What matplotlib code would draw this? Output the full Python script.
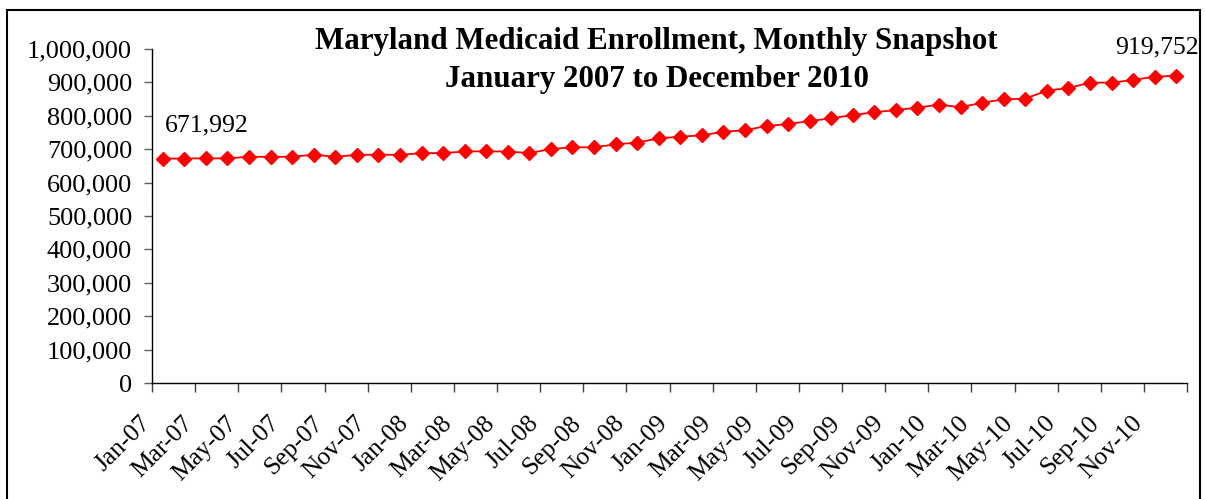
import matplotlib
matplotlib.use("Agg")
import matplotlib.pyplot as plt
from matplotlib.patches import Rectangle
from matplotlib.ticker import FuncFormatter
from matplotlib.transforms import ScaledTranslation

# monthly enrollment, Jan 2007 .. Dec 2010
years = ["07", "08", "09", "10"]
month_names = ["Jan", "Feb", "Mar", "Apr", "May", "Jun",
               "Jul", "Aug", "Sep", "Oct", "Nov", "Dec"]
months = [m + "-" + y for y in years for m in month_names]

enrollment = [
    671992, 672000, 672500, 672500, 677500, 677000,
    677500, 683500, 677500, 683000, 683500, 683000,
    688500, 688000, 693500, 693500, 693000, 688500,
    700500, 705600, 705600, 714600, 719600, 732500,
    737500, 741500, 752500, 756500, 769500, 775400,
    784400, 792400, 802400, 810400, 817400, 824400,
    833500, 825500, 839300, 849300, 851300, 875200,
    883200, 899200, 899200, 907200, 917200, 919752,
]

plt.rcParams["font.family"] = ["Liberation Serif", "DejaVu Serif"]

fig = plt.figure(figsize=(12.05, 4.99), dpi=100)
ax = fig.add_axes([152 / 1205, 1 - 383 / 499, (1187 - 152) / 1205, (383 - 49) / 499])

x = list(range(len(months)))
ax.plot(x, enrollment, color="#ff0000", lw=1.3, marker="D", ms=6.8,
        markeredgecolor="#ff0000", markerfacecolor="#ff0000", clip_on=False)

ax.set_ylim(0, 1000000)
ax.set_xlim(-0.5, len(months) - 0.5)
ax.set_yticks(range(0, 1000001, 100000))
ax.yaxis.set_major_formatter(FuncFormatter(lambda v, p: f"{int(v):,}"))

# tick marks sit between categories, labels every other month
ax.set_xticks([i - 0.5 for i in range(0, len(months) + 1, 2)])
ax.set_xticklabels([])
ax.set_xticks(x[::2], minor=True)
ax.set_xticklabels(months[::2], minor=True, rotation=45, ha="right",
                   va="center", rotation_mode="anchor")
ax.tick_params(axis="x", which="minor", length=0, pad=18, labelsize=18.4)
ax.tick_params(axis="x", which="major", length=6.5, width=1, color="#404040")
ax.tick_params(axis="y", length=5.8, width=1, color="#606060", labelsize=18.9, pad=8.5)

shift = ScaledTranslation(-16 / 100, -12 / 100, fig.dpi_scale_trans)
for lbl in ax.get_xticklabels(minor=True):
    lbl.set_transform(lbl.get_transform() + shift)

for side in ("top", "right"):
    ax.spines[side].set_visible(False)
for side in ("left", "bottom"):
    ax.spines[side].set_color("black")
    ax.spines[side].set_linewidth(1.0)

ax.annotate(f"{enrollment[0]:,}", (x[0], enrollment[0]), xytext=(2, 27),
            textcoords="offset pixels", ha="left", va="baseline", fontsize=18.5)
ax.annotate(f"{enrollment[-1]:,}", (x[-1], enrollment[-1]), xytext=(-61, 22),
            textcoords="offset pixels", ha="left", va="baseline", fontsize=18.5)

fig.text(656.5 / 1205, 1 - 49 / 499, "Maryland Medicaid Enrollment, Monthly Snapshot",
         ha="center", va="baseline", fontsize=22.3, fontweight="bold")
fig.text(656.5 / 1205, 1 - 87 / 499, "January 2007 to December 2010",
         ha="center", va="baseline", fontsize=22.3, fontweight="bold")

# chart frame
fig.patches.append(Rectangle((7 / 1205, -0.05), (1200 - 7) / 1205, 1 - 10 / 499 + 0.05,
                             transform=fig.transFigure, fill=False,
                             edgecolor="black", linewidth=1.5))

fig.savefig("out.png", dpi=100)
